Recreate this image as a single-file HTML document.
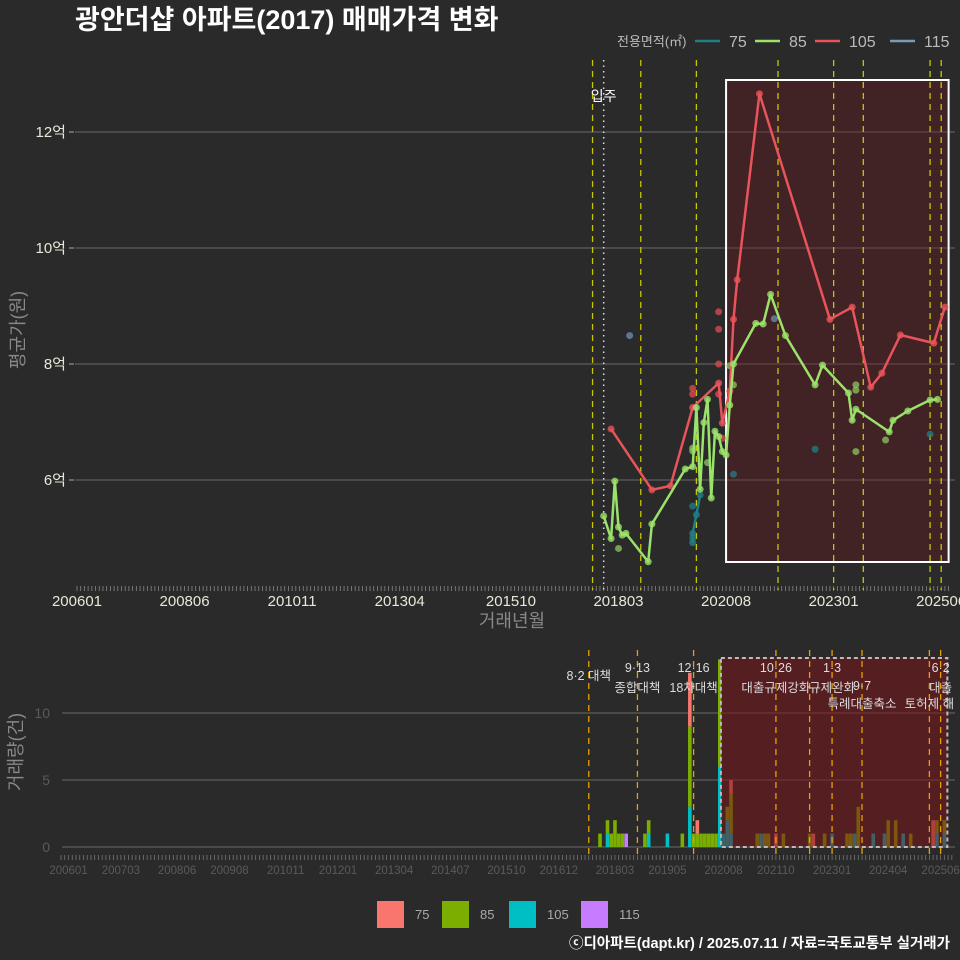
<!DOCTYPE html>
<html><head><meta charset="utf-8">
<style>
html,body{margin:0;padding:0;background:#2a2a2a;}
svg{display:block;font-family:"Liberation Sans","Noto Sans CJK KR",sans-serif;}
</style></head>
<body>
<svg id="c" width="960" height="960" viewBox="0 0 960 960" xmlns="http://www.w3.org/2000/svg">
<rect x="0" y="0" width="960" height="960" fill="#2a2a2a"/>
<text x="75" y="29" font-size="27" font-weight="bold" fill="#ffffff">광안더샵 아파트(2017) 매매가격 변화</text>
<g id="legendTop"></g>
<g id="main"></g>
<g id="bottom"></g>
<g id="legendBottom"></g>
<text x="950" y="948" text-anchor="end" font-size="14.5" font-weight="bold" fill="#ffffff">ⓒ디아파트(dapt.kr) / 2025.07.11 / 자료=국토교통부 실거래가</text>
</svg>
<script>
// ---- data (months since 2006-01) ----
const seriesNames = ["75","85","105","115"];
const line85Months = [142,144,145,146,147,148,154,155,164,166,167,168,169,170,171,172,173,174,175,176,177,183,185,187,191,199,201,208,209,210,219,220,224,230,232];
const line85Values = [5.38,4.99,5.98,5.19,5.05,5.08,4.59,5.24,6.19,6.23,7.25,5.84,6.99,7.39,5.69,6.84,6.75,6.49,6.43,7.29,8.0,8.7,8.69,9.2,8.49,7.64,7.98,7.5,7.03,7.22,6.83,7.03,7.19,7.38,7.39];
const line105Months = [144,155,160,166,173,174,176,177,178,184,203,209,214,217,222,231,234];
const line105Values = [6.88,5.83,5.9,7.25,7.67,6.98,7.53,8.77,9.45,12.66,8.77,8.98,7.6,7.84,8.5,8.36,8.98];
const line75Months = [166,166,167,168];
const line75Values = [4.92,5.08,5.4,5.74];
const pts75Months = [166,166,177,199,230];
const pts75Values = [5.55,5.0,6.1,6.53,6.79];
const pts85Months = [146,166,177,176,210,210,210,218,166,170];
const pts85Values = [4.82,6.5,7.64,7.97,7.64,7.55,6.49,6.69,6.55,6.3];
const pts105Months = [173,173,173,166,166,173,174];
const pts105Values = [8.9,8.6,8.0,7.58,7.48,7.48,6.72];
const pts115Months = [149,188];
const pts115Values = [8.49,8.78];
const yTicksMain = [6,8,10,12];
const yTickLabelsMain = ["6억","8억","10억","12억"];
const xTickMonths = [0,29,58,87,117,146,175,204,233];
const xTickLabels = ["200601","200806","201011","201304","201510","201803","202008","202301","202506"];
const policyMonths = [139,152,167,189,204,212,230,233];
const moveInMonth = 142;
// bottom bars
const barMonths = [142,144,145,146,147,148,149,154,155,160,164,166,167,168,169,170,171,172,173,174,175,176,177,184,185,186,187,189,191,198,199,202,204,208,209,210,211,215,218,219,221,223,225,231,232,234];
const cnt75 =  [0,0,0,0,0,0,0,0,0,0,0,4,0,1,0,0,0,0,0,0,0,0,1,0,0,0,0,1,0,0,1,0,0,0,0,0,0,0,0,0,0,0,0,2,0,0];
const cnt85 =  [1,1,1,2,1,1,0,1,1,0,1,6,1,1,1,1,1,1,1,8,0,1,3,1,0,1,1,0,1,1,0,1,0,1,1,0,3,0,0,2,2,0,1,0,1,1];
const cnt105 = [0,1,0,0,0,0,0,0,1,1,0,3,0,0,0,0,0,0,0,6,1,2,1,0,1,0,0,0,0,0,0,0,1,0,0,1,0,1,1,0,0,1,0,0,1,1];
const cnt115 = [0,0,0,0,0,0,1,0,0,0,0,0,0,0,0,0,0,0,0,0,0,0,0,0,0,0,0,0,0,0,0,0,0,0,0,0,0,0,0,0,0,0,0,0,0,0];
const yTicksBottom = [0,5,10];
const xTickMonthsB = [0,14,29,43,58,72,87,102,117,131,146,160,175,189,204,219,233];
const xTickLabelsB = ["200601","200703","200806","200908","201011","201201","201304","201407","201510","201612","201803","201905","202008","202110","202301","202404","202506"];

const NS="http://www.w3.org/2000/svg";
function mk(tag,attrs,parent,txt){const e=document.createElementNS(NS,tag);for(const k in attrs)e.setAttribute(k,attrs[k]);if(txt!==undefined)e.textContent=txt;parent.appendChild(e);return e;}
const xM = m => 77 + m*3.709;
const yM = v => 480 - (v-6)*58;
const xB = m => 68.5 + m*3.743;
const yB = c => 847 - c*13.4;

const main=document.getElementById('main');
yTicksMain.forEach((t,i)=>{
  const g=mk('line',{x1:75,x2:955,y1:yM(t),y2:yM(t),stroke:'#6a6a6a','stroke-width':1},main);
  
  
  const l=mk('text',{x:66,y:yM(t)+5,'text-anchor':'end','font-size':15,fill:'#e8e8d8'},main,yTickLabelsMain[i]);
  
  
  mk('line',{x1:69,x2:74,y1:yM(t),y2:yM(t),stroke:'#aaa'},main);
});
for(let m=0;m<=235;m++){mk('line',{x1:xM(m),x2:xM(m),y1:586,y2:591,stroke:'#888','stroke-width':0.8},main);}
xTickMonths.forEach((m,i)=>{
  const l=mk('text',{x:xM(m),y:606,'text-anchor':'middle','font-size':15,fill:'#e8e8d8'},main,xTickLabels[i]);
  
  
});
let t=mk('text',{x:512,y:627,'text-anchor':'middle','font-size':18,fill:'#888'},main,'거래년월');


t=mk('text',{x:0,y:0,'text-anchor':'middle','font-size':18,fill:'#888',transform:'translate(24,330) rotate(-90)'},main,'평균가(원)');


let r=mk('rect',{x:xM(175),y:80,width:xM(235)-xM(175),height:482,fill:'rgba(110,20,30,0.35)',stroke:'#ffffff','stroke-width':2},main);


policyMonths.forEach(m=>{
  const l=mk('line',{x1:xM(m),x2:xM(m),y1:60,y2:590,stroke:'#c8c800','stroke-width':1.3,'stroke-dasharray':'6,5'},main);
  
  
});
let mv=mk('line',{x1:xM(moveInMonth),x2:xM(moveInMonth),y1:60,y2:590,stroke:'#dddddd','stroke-width':1.5,'stroke-dasharray':'1.5,4'},main);


t=mk('text',{x:xM(moveInMonth),y:101,'text-anchor':'middle','font-size':14,fill:'#ffffff'},main,'입주');


function drawLine(ms,vs,col,name){
  const p=mk('polyline',{points:ms.map((m,i)=>xM(m)+','+yM(vs[i])).join(' '),fill:'none',stroke:col,'stroke-width':2.5,'stroke-linejoin':'round'},main);
  
  
  ms.forEach((m,i)=>{const c=mk('circle',{cx:xM(m),cy:yM(vs[i]),r:3.5,fill:col,opacity:0.8},main);
    
    });
}
function drawPts(ms,vs,col){
  ms.forEach((m,i)=>{const c=mk('circle',{cx:xM(m),cy:yM(vs[i]),r:3.5,fill:col,opacity:0.75},main);
    
    });
}
drawPts(pts115Months,pts115Values,'#6f8fb0');
drawPts(pts75Months,pts75Values,'#1f7f86');
drawPts(pts85Months,pts85Values,'#8cc860');
drawPts(pts105Months,pts105Values,'#e04c52');
drawLine(line75Months,line75Values,'#1f7f86','line-75');
drawLine(line105Months,line105Values,'#e8545a','line-105');
drawLine(line85Months,line85Values,'#9be26b','line-85');

const lt=document.getElementById('legendTop');
t=mk('text',{x:617,y:46,'font-size':13,fill:'#bbb'},lt,'전용면적(㎡)');


const legCols=['#1f7f86','#9be26b','#e8545a','#7a9ab8'];
const legX=[695,755,815,890];
seriesNames.forEach((n,i)=>{
  const l=mk('line',{x1:legX[i],x2:legX[i]+25,y1:41,y2:41,stroke:legCols[i],'stroke-width':2.5},lt);
  
  
  mk('text',{x:legX[i]+34,y:47,'font-size':16,fill:'#bbb'},lt,n);
});

const bot=document.getElementById('bottom');
yTicksBottom.forEach(v=>{
  const g=mk('line',{x1:62,x2:955,y1:yB(v),y2:yB(v),stroke:'#6a6a6a','stroke-width':1},bot);
  
  
  const l=mk('text',{x:50,y:yB(v)+5,'text-anchor':'end','font-size':14,fill:'#5a5a5a'},bot,String(v));
  
  
});
for(let m=-2;m<=236;m++){mk('line',{x1:xB(m),x2:xB(m),y1:855,y2:860,stroke:'#777','stroke-width':0.8},bot);}
xTickMonthsB.forEach((m,i)=>{
  const l=mk('text',{x:xB(m),y:874,'text-anchor':'middle','font-size':11.5,fill:'#5a5a5a'},bot,xTickLabelsB[i]);
  
  
});
t=mk('text',{x:0,y:0,'text-anchor':'middle','font-size':18,fill:'#888',transform:'translate(22,752) rotate(-90)'},bot,'거래량(건)');


const barCols=['#f8766d','#7cae00','#00bfc4','#c77cff'];
const counts=[cnt75,cnt85,cnt105,cnt115];
barMonths.forEach((m,i)=>{
  let base=0;
  [2,1,0,3].forEach(s=>{
    const c=counts[s][i]; if(!c) return;
    const b=mk('rect',{x:xB(m)-1.8,y:yB(base+c),width:3.6,height:c*13.4,fill:barCols[s]},bot);
    
    
    base+=c;
  });
});
r=mk('rect',{x:xB(174.3),y:658,width:xB(234.8)-xB(174.3),height:189,fill:'rgba(120,20,25,0.55)',stroke:'#bbbbbb','stroke-width':2,'stroke-dasharray':'4,3'},bot);


policyMonths.concat([198]).forEach(m=>{
  const l=mk('line',{x1:xB(m),x2:xB(m),y1:650,y2:856,stroke:'#e8a000','stroke-width':1.3,'stroke-dasharray':'6,5'},bot);
  
  
});
const ann=[[139,680,'8·2 대책'],[152,672,'9·13'],[152,692,'종합대책'],[167,672,'12·16'],[167,692,'18차대책'],[189,672,'10·26'],[189,692,'대출규제강화'],[204,672,'1·3'],[204,692,'규제완화'],[212,690,'9·7'],[212,708,'특례대출축소'],[230,708,'토허제 해'],[233,672,'6·2'],[233,692,'대출']];
ann.forEach(a=>{
  const l=mk('text',{x:xB(a[0]),y:a[1],'text-anchor':'middle','font-size':12.5,fill:'#dddddd'},bot,a[2]);
  
  
});

const lb=document.getElementById('legendBottom');
const lbx=[377,442,509,581];
seriesNames.forEach((n,i)=>{
  const k=mk('rect',{x:lbx[i],y:901,width:27,height:27,fill:barCols[i]},lb);
  
  
  mk('text',{x:lbx[i]+38,y:919,'font-size':13,fill:'#aaa'},lb,n);
});
</script>
</body></html>
